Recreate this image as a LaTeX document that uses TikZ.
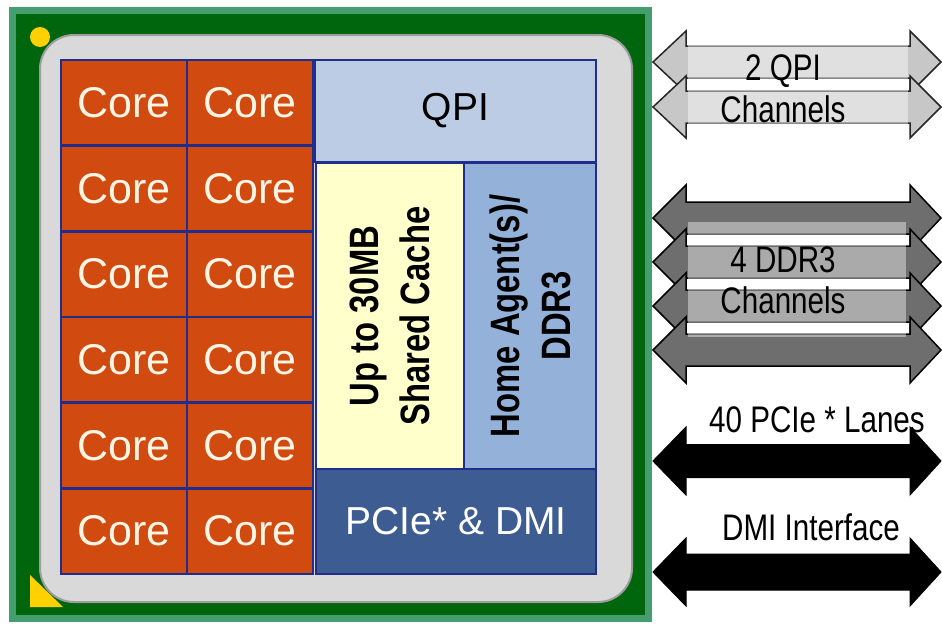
\documentclass[tikz,border=0pt]{standalone}
\usepackage{fontspec}
\setmainfont{Liberation Sans}
\newfontfamily\narrowfont{Liberation Sans}[FakeStretch=0.8]
\usetikzlibrary{calc}
\definecolor{BoardClr}{rgb}{0,0.4,0.05}
\definecolor{BoardEdge}{rgb}{0.27,0.62,0.43}
\definecolor{PinClr}{rgb}{1,0.82,0}
\definecolor{DieClr}{rgb}{0.85,0.85,0.85}
\definecolor{DieEdge}{rgb}{0.62,0.62,0.62}
\definecolor{CoreClr}{rgb}{0.82,0.29,0.06}
\definecolor{CoreTxt}{rgb}{1,0.96,0.9}
\definecolor{EdgeClr}{rgb}{0.12,0.18,0.55}
\definecolor{QpiClr}{rgb}{0.74,0.8,0.9}
\definecolor{CacheClr}{rgb}{1,1,0.8}
\definecolor{HomeClr}{rgb}{0.58,0.7,0.85}
\definecolor{PcieClr}{rgb}{0.24,0.36,0.57}
\definecolor{QpiBus}{rgb}{0.78,0.78,0.78}
\definecolor{DdrBus}{rgb}{0.43,0.43,0.43}

% #1 = centre y, #2 = half shaft, #3 = half head, #4 = style
\newcommand{\busarrow}[4]{%
  \draw[#4] (653,#1) -- (686,{#1-#3}) -- (686,{#1-#2}) -- (910,{#1-#2})
    -- (910,{#1-#3}) -- (941,#1) -- (910,{#1+#3}) -- (910,{#1+#2})
    -- (686,{#1+#2}) -- (686,{#1+#3}) -- cycle;}

\begin{document}
\begin{tikzpicture}[x=1pt,y=-1pt,
  block/.style={draw=EdgeClr,line width=2.5pt,inner sep=0pt,outer sep=0pt},
  core/.style={block,fill=CoreClr,minimum width=126pt,minimum height=85.67pt,
    text=CoreTxt,font=\fontsize{43}{43}\selectfont},
  bigtxt/.style={font=\fontsize{39}{39}\selectfont},
  sidetxt/.style={font=\narrowfont\bfseries\fontsize{41}{51}\selectfont,align=center,rotate=90},
  linklbl/.style={font=\narrowfont\fontsize{37}{37}\selectfont,anchor=base},
  qpibus/.style={fill=QpiBus,draw=black!85,line width=1.5pt,line join=miter},
  ddrbus/.style={fill=DdrBus,draw=black,line width=1.5pt,line join=miter},
  iobus/.style={fill=black,draw=black,line width=1pt,line join=miter}]

\useasboundingbox (0,0) rectangle (942,629);

% The package board and the die.
\draw[line width=7pt,draw=BoardEdge,fill=BoardClr] (12.5,10.5) rectangle (648.5,618.5);
\fill[PinClr] (40,37) circle (10);
\fill[PinClr] (30,575) -- (30,607) -- (63,607) -- cycle;
\draw[line width=2pt,draw=DieEdge,fill=DieClr,rounded corners=34pt] (40,35) rectangle (632,602);

% Twelve cores.
\foreach \r in {0,...,5}{
  \foreach \c in {0,1}{
    \node[core] (core-\r-\c) at ({124+126*\c},{102.83+85.67*\r}) {Core};
  }
}

% Uncore blocks.
\node[block,fill=QpiClr,minimum width=281pt,minimum height=102pt,bigtxt] (qpi) at (455.5,111) {QPI};
\node[block,fill=CacheClr,minimum width=148pt,minimum height=306pt] (cache) at (390,316) {};
\node[block,fill=HomeClr,minimum width=132pt,minimum height=306pt] (home) at (530,316) {};
\node[block,fill=PcieClr,minimum width=280pt,minimum height=105pt,bigtxt,text=white] (pcie) at (456,521.5) {PCIe* \& DMI};

\node[sidetxt] (cachelbl) at (cache.center) {Up to 30MB\\Shared Cache};
\node[sidetxt] (homelbl) at (home.center) {Home Agent(s)/\\DDR3};

% QPI links.
\busarrow{62}{16}{31}{qpibus}
\busarrow{107}{16}{31}{qpibus}
\fill[white,opacity=0.45] (688,30) rectangle (908,145);
\node[linklbl] (qpiA) at (783,80) {2 QPI};
\node[linklbl] (qpiB) at (783,122) {Channels};

% DDR3 channels.
\foreach \yc in {218,262,306,350}{
  \busarrow{\yc}{16}{33}{ddrbus}
}
\fill[white,opacity=0.42] (688,222) rectangle (906,337);
\node[linklbl] (ddrA) at (783,272) {4 DDR3};
\node[linklbl] (ddrB) at (783,313) {Channels};

% PCIe and DMI.
\node[linklbl] (pcielbl) at (817,432) {40 PCIe * Lanes};
\busarrow{461}{16.5}{34}{iobus}
\node[linklbl] (dmilbl) at (811,540) {DMI Interface};
\busarrow{572}{18}{34}{iobus}

\end{tikzpicture}
\end{document}
